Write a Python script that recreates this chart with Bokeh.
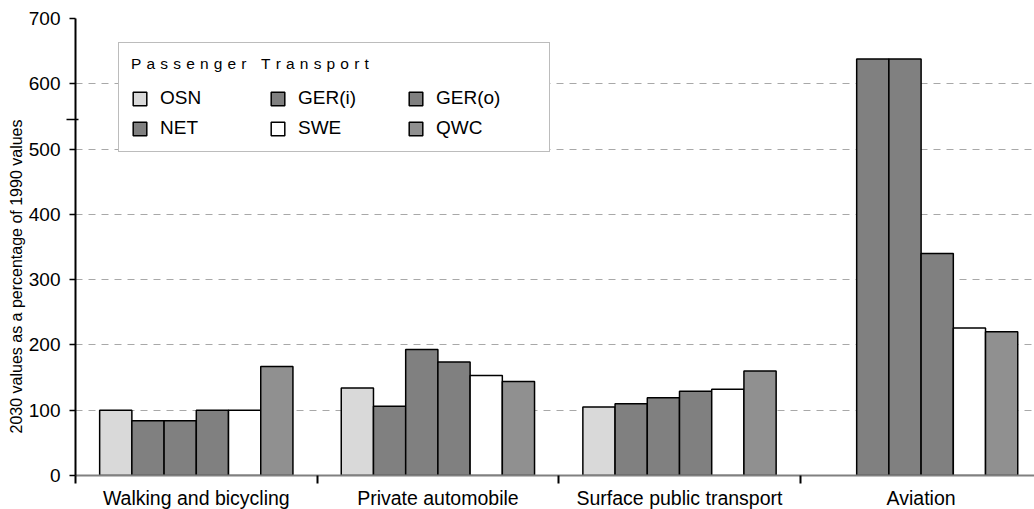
from bokeh.plotting import figure
from bokeh.models import (ColumnDataSource, Range1d, FixedTicker, Legend, LegendItem, Title)
from bokeh.embed import file_html
from bokeh.resources import INLINE

# ---------------- data ----------------
categories = ["Walking and bicycling", "Private automobile", "Surface public transport", "Aviation"]
series = ["OSN", "GER(i)", "GER(o)", "NET", "SWE", "QWC"]
osn = [100, 134, 105, float("nan")]
ger_i = [84, 106, 110, 638]
ger_o = [84, 193, 119, 638]
net = [100, 174, 129, 340]
swe = [100, 153, 132, 226]
qwc = [167, 144, 160, 220]
values = [osn, ger_i, ger_o, net, swe, qwc]
colors = ["#d9d9d9", "#808080", "#808080", "#808080", "#ffffff", "#909090"]
y_ticks = [0, 100, 200, 300, 400, 500, 600, 700]
y_label = "2030 values as a percentage of 1990 values"
legend_title = "Passenger Transport"

FONT = "Liberation Sans"
n_cat = len(categories)
n_ser = len(series)
group_w = 0.8
bar_w = group_w / n_ser

frame_w = 959
frame_h = 457
cat_px = 241.6
p = figure(frame_width=frame_w, frame_height=frame_h,
           min_border_left=75, min_border_right=0, min_border_top=18, min_border_bottom=34,
           x_range=Range1d(0, frame_w / cat_px), y_range=Range1d(0, 700),
           output_backend="svg", toolbar_location=None)
p.outline_line_color = None
p.background_fill_color = "white"
p.border_fill_color = "white"

renderers = []
for k, (name, vals, col) in enumerate(zip(series, values, colors)):
    xs = [i + (1 - group_w) / 2 + bar_w * (k + 0.5) for i in range(n_cat)]
    src = ColumnDataSource(dict(x=xs, top=vals))
    r = p.vbar(x="x", top="top", bottom=0, width=bar_w, source=src,
               fill_color=col, line_color="black", line_width=1.5)
    renderers.append(r)

# grid
p.xgrid.grid_line_color = None
p.ygrid.ticker = FixedTicker(ticks=y_ticks)
p.ygrid.grid_line_color = "#a8a8a8"
p.ygrid.grid_line_dash = "7 6"
p.ygrid.grid_line_width = 1.2

# x axis
xa = p.xaxis[0]
xa.ticker = FixedTicker(ticks=[i + 0.5 for i in range(n_cat)], minor_ticks=list(range(n_cat)))
xa.major_label_overrides = {i + 0.5: c for i, c in enumerate(categories)}
xa.major_tick_in = 0
xa.major_tick_out = 0
xa.minor_tick_in = 0
xa.minor_tick_out = 8
xa.minor_tick_line_color = "black"
xa.minor_tick_line_width = 2
xa.axis_line_color = "#808080"
xa.axis_line_width = 2
xa.major_label_standoff = 3
xa.major_label_text_font = FONT
xa.major_label_text_font_size = "19.5px"
xa.major_label_text_color = "black"

# y axis
ya = p.yaxis[0]
ya.ticker = FixedTicker(ticks=y_ticks, minor_ticks=[546])
ya.major_tick_in = 0
ya.major_tick_out = 6
ya.major_tick_line_color = "black"
ya.major_tick_line_width = 1.5
ya.minor_tick_in = 3
ya.minor_tick_out = 9
ya.minor_tick_line_color = "black"
ya.minor_tick_line_width = 1.5
ya.axis_line_color = "black"
ya.axis_line_width = 2
ya.major_label_standoff = 6
ya.major_label_text_font = FONT
ya.major_label_text_font_size = "19px"
ya.major_label_text_color = "black"

t = Title(text=y_label, align="left", offset=42, text_font=FONT, text_font_size="16px",
          text_font_style="normal", text_color="black", standoff=2)
p.add_layout(t, "left")

# legend
sp = "\u2004"
spaced = " ".join(sp.join(list(w)) for w in legend_title.split(" ")).replace(" ", sp + " " + sp)
items = [LegendItem(label=s, renderers=[r]) for s, r in zip(series, renderers)]
leg = Legend(items=items, orientation="horizontal", ncols=3,
             location=(43, 323), title=spaced,
             title_text_font=FONT, title_text_font_size="15.5px", title_text_font_style="normal",
             title_text_color="black", title_standoff=14,
             label_text_font=FONT, label_text_font_size="19px", label_text_color="black",
             glyph_width=17, glyph_height=17, label_standoff=12, label_width=101, label_height=20,
             spacing=8, padding=12, margin=0,
             border_line_color="#7a7a7a", border_line_width=1.5,
             background_fill_color="white", background_fill_alpha=1.0)
p.add_layout(leg, "center")

open("out.html", "w").write(file_html(p, INLINE))
